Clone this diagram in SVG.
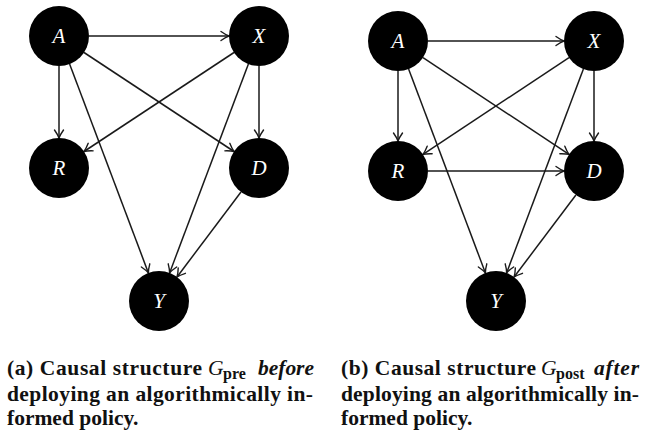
<svg xmlns="http://www.w3.org/2000/svg" width="652" height="435" viewBox="0 0 652 435">
<style>
.node circle{fill:#000;}
.node text{fill:#fff;font-family:"Liberation Serif",serif;font-style:italic;font-size:21px;text-anchor:middle;}
.edges line{stroke:#1a1a1a;stroke-width:1.5;fill:none;}
.cap{font-family:"Liberation Serif",serif;font-weight:bold;font-size:21.5px;fill:#111;}
.mi{font-style:italic;font-weight:normal;}
.bi{font-style:italic;}
.sub{font-size:16px;}
</style>
<defs>
<marker id="ah" markerUnits="userSpaceOnUse" markerWidth="12" markerHeight="12" refX="0" refY="0" viewBox="-9 -6 11 12" orient="auto">
<path d="M-8,-4.5 Q-3,-1 0,0 Q-3,1 -8,4.5" fill="none" stroke="#1a1a1a" stroke-width="1.4" stroke-linecap="round"/>
</marker>
</defs>
<rect width="652" height="435" fill="#fff"/>
<g class="edges">
<line x1="89" y1="36" x2="229" y2="36" marker-end="url(#ah)"/>
<line x1="59" y1="66" x2="59" y2="138" marker-end="url(#ah)"/>
<line x1="84" y1="52.5" x2="234" y2="151.5" marker-end="url(#ah)"/>
<line x1="69.6" y1="64.1" x2="148.4" y2="272.9" marker-end="url(#ah)"/>
<line x1="234" y1="52.5" x2="84" y2="151.5" marker-end="url(#ah)"/>
<line x1="259" y1="66" x2="259" y2="138" marker-end="url(#ah)"/>
<line x1="248.4" y1="64.1" x2="169.6" y2="272.9" marker-end="url(#ah)"/>
<line x1="241" y1="192" x2="177" y2="277" marker-end="url(#ah)"/>
<line x1="428" y1="41" x2="564" y2="41" marker-end="url(#ah)"/>
<line x1="398" y1="71" x2="398" y2="141" marker-end="url(#ah)"/>
<line x1="423" y1="57.6" x2="569" y2="154.4" marker-end="url(#ah)"/>
<line x1="408.6" y1="69.1" x2="485.4" y2="272.9" marker-end="url(#ah)"/>
<line x1="569" y1="57.6" x2="423" y2="154.4" marker-end="url(#ah)"/>
<line x1="594" y1="71" x2="594" y2="141" marker-end="url(#ah)"/>
<line x1="583.4" y1="69.1" x2="506.6" y2="272.9" marker-end="url(#ah)"/>
<line x1="428" y1="171" x2="564" y2="171" marker-end="url(#ah)"/>
<line x1="575.9" y1="195" x2="514.1" y2="277" marker-end="url(#ah)"/>
</g>
<g id="a-A" class="node"><circle cx="59" cy="36" r="30"/><text x="59" y="43">A</text></g>
<g id="a-X" class="node"><circle cx="259" cy="36" r="30"/><text x="259" y="43">X</text></g>
<g id="a-R" class="node"><circle cx="59" cy="168" r="30"/><text x="59" y="175">R</text></g>
<g id="a-D" class="node"><circle cx="259" cy="168" r="30"/><text x="259" y="175">D</text></g>
<g id="a-Y" class="node"><circle cx="159" cy="301" r="30"/><text x="159" y="308">Y</text></g>
<g id="b-A" class="node"><circle cx="398" cy="41" r="30"/><text x="398" y="48">A</text></g>
<g id="b-X" class="node"><circle cx="594" cy="41" r="30"/><text x="594" y="48">X</text></g>
<g id="b-R" class="node"><circle cx="398" cy="171" r="30"/><text x="398" y="178">R</text></g>
<g id="b-D" class="node"><circle cx="594" cy="171" r="30"/><text x="594" y="178">D</text></g>
<g id="b-Y" class="node"><circle cx="496" cy="301" r="30"/><text x="496" y="308">Y</text></g>
<g id="caption-a" class="cap">
<text x="7" y="375" textLength="195" lengthAdjust="spacing">(a) Causal structure</text>
<text x="208" y="375" class="mi">G</text>
<text x="223" y="379" class="sub">pre</text>
<text x="258" y="375" class="bi" textLength="56" lengthAdjust="spacing">before</text>
<text x="7" y="401" textLength="306" lengthAdjust="spacing">deploying an algorithmically in-</text>
<text x="7" y="425">formed policy.</text>
</g>
<g id="caption-b" class="cap">
<text x="341" y="375" textLength="195" lengthAdjust="spacing">(b) Causal structure</text>
<text x="541" y="375" class="mi">G</text>
<text x="556" y="379" class="sub">post</text>
<text x="594" y="375" class="bi" textLength="45" lengthAdjust="spacing">after</text>
<text x="341" y="401" textLength="298" lengthAdjust="spacing">deploying an algorithmically in-</text>
<text x="341" y="425">formed policy.</text>
</g>
</svg>
